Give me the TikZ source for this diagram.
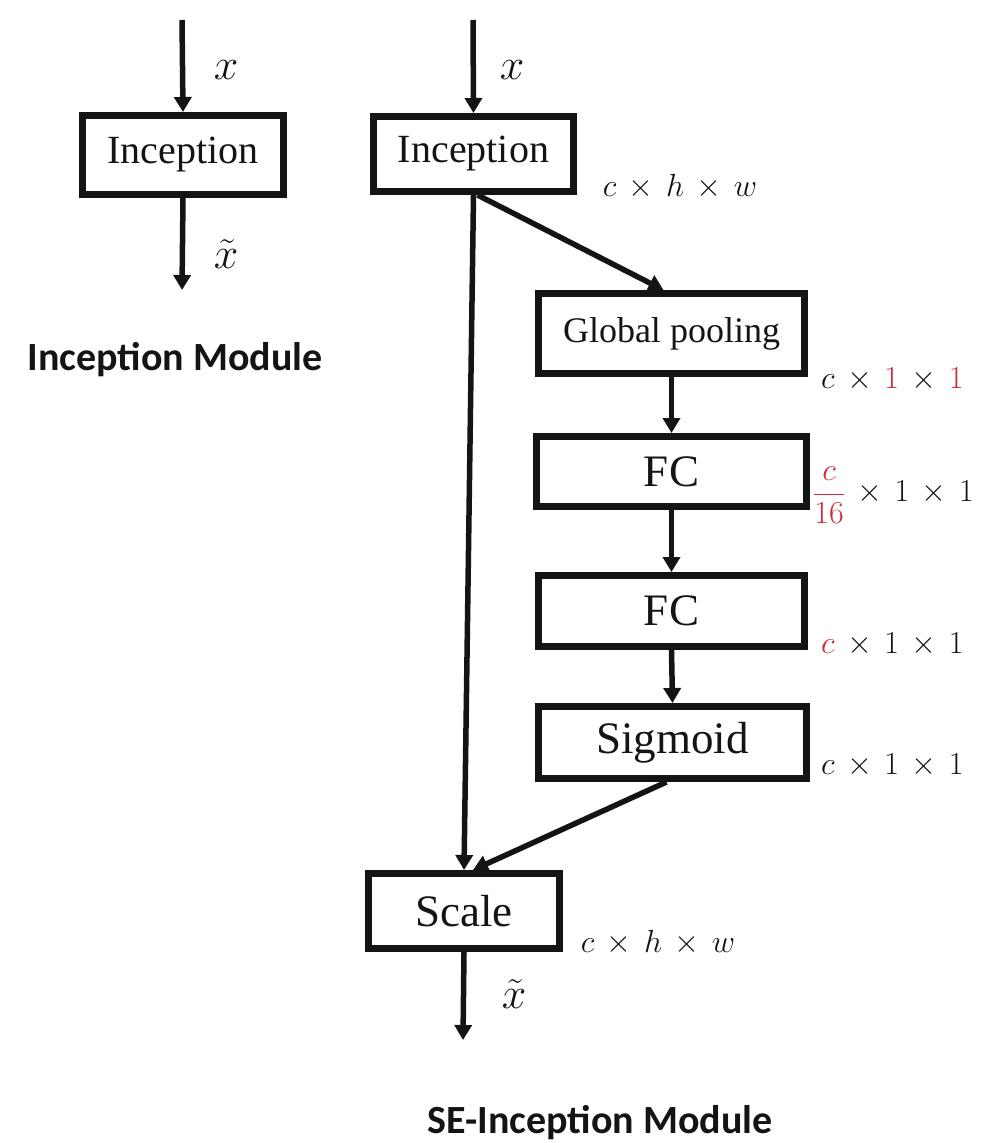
\RequirePackage{fix-cm}
\documentclass[tikz,border=0pt]{standalone}
\usepackage{fontspec}
\setmainfont{Liberation Serif}
\newfontfamily\titlefont{Carlito}
\usetikzlibrary{arrows.meta,calc}

\definecolor{dimred}{RGB}{205,45,55}
\definecolor{ink}{RGB}{20,20,20}

\begin{document}
\begin{tikzpicture}[x=1pt,y=-1pt,
  blk/.style={draw=ink, text=ink, line width=7pt, inner sep=0pt},
  bigtxt/.style={font=\fontsize{45}{50}\selectfont},
  midtxt/.style={font=\fontsize{40}{46}\selectfont},
  smtxt/.style={font=\fontsize{36}{42}\selectfont},
  flow/.style={draw=ink, line width=5.5pt, -{Triangle[width=17pt,length=15pt]}},
  varlab/.style={text=ink, inner sep=0pt, font=\fontsize{44}{48}\selectfont},
  dimlab/.style={text=ink, inner sep=0pt, font=\fontsize{32}{36}\selectfont},
  title/.style={text=ink, inner sep=0pt, anchor=base, font=\titlefont\bfseries\fontsize{40}{44}\selectfont}]
\useasboundingbox (0,0) rectangle (982,1143);

% ---- plain Inception module ----
\node[blk, midtxt, minimum width=201pt, minimum height=79pt] (incA) at (183,155) {Inception};
\coordinate (incAin) at (182,20);
\coordinate (incAout) at (182,290);
\draw[flow] (incAin) -- (incA.north);
\draw[flow] (incA.south) -- (incAout);
\node[varlab] (xA) at (226,70) {$x$};
\node[varlab] (xtA) at (226,254) {$\tilde{x}$};
\node[title] (tA) at (175,370) {Inception Module};

% ---- SE-Inception module ----
\node[blk, midtxt, minimum width=200pt, minimum height=75pt] (incB) at (473.5,154) {Inception};
\node[blk, smtxt, minimum width=266pt, minimum height=80pt] (gp) at (671.5,333.5) {Global pooling};
\node[blk, bigtxt, minimum width=270pt, minimum height=70pt] (fc1) at (671.5,471.5) {FC};
\node[blk, bigtxt, minimum width=266pt, minimum height=71pt] (fc2) at (671.5,611) {FC};
\node[blk, bigtxt, minimum width=268pt, minimum height=72pt] (sig) at (672.5,742.5) {Sigmoid};
\node[blk, bigtxt, minimum width=191pt, minimum height=75pt] (scl) at (464,911) {Scale};

\coordinate (incBin) at (473,20);
\coordinate (sclout) at (463,1040);

\draw[flow] (incBin) -- (incB.north);
\draw[flow] (incB.south) -- (scl.north);
\draw[flow] ([xshift=4pt]incB.south) -- ([xshift=-8pt]gp.north);
\draw[flow] (gp.south) -- (fc1.north);
\draw[flow] (fc1.south) -- (fc2.north);
\draw[flow] (fc2.south) -- (sig.north);
\draw[flow] ([xshift=-6pt]sig.south) -- ([xshift=9pt]scl.north);
\draw[flow] (scl.south) -- (sclout);

\node[varlab] (xB) at (512,70) {$x$};
\node[varlab] (xtB) at (514,994) {$\tilde{x}$};

% tensor shapes
\node[dimlab] (dInc) at (680,187) {$\medmuskip=7mu c\times h\times w$};
\node[dimlab, anchor=west] (dGp) at (821,380) {$\medmuskip=7mu c\times \textcolor{dimred}{1}\times \textcolor{dimred}{1}$};
\node[dimlab, anchor=west] (dFc1) at (813,495) {$\displaystyle\medmuskip=7mu \textcolor{dimred}{\frac{c}{16}}\times 1\times 1$};
\node[dimlab, anchor=west] (dFc2) at (821,645) {$\medmuskip=7mu \textcolor{dimred}{c}\times 1\times 1$};
\node[dimlab, anchor=west] (dSig) at (821,766) {$\medmuskip=7mu c\times 1\times 1$};
\node[dimlab] (dScl) at (658,943) {$\medmuskip=7mu c\times h\times w$};

\node[title] (tB) at (600,1133) {SE-Inception Module};
\end{tikzpicture}
\end{document}
